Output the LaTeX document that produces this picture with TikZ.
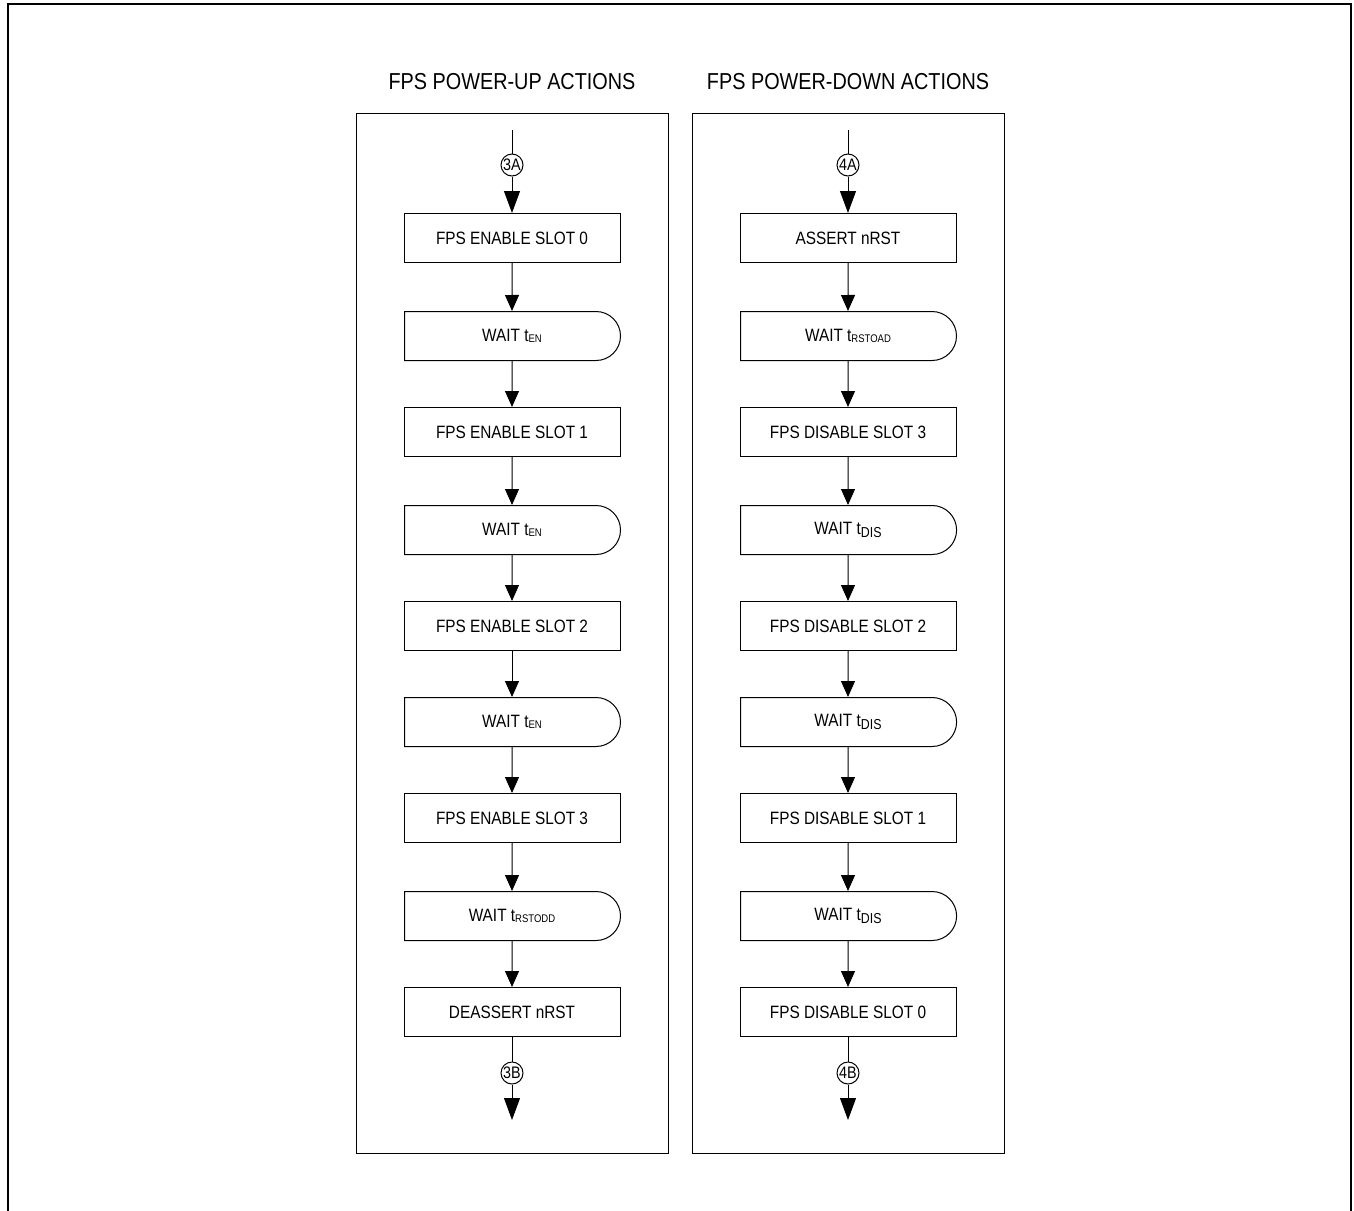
\documentclass[tikz,border=0pt]{standalone}
\usepackage{fontspec}
\setmainfont{Liberation Sans}[FakeStretch=0.86]
\usetikzlibrary{arrows.meta,shapes.misc}
% subscripts of the wait times
\newcommand{\tsmall}[1]{t\raisebox{-1.2pt}{\fontsize{8.3}{8.3}\selectfont #1}}
\newcommand{\tlarge}[1]{t\raisebox{-2pt}{\fontsize{10.8}{10.8}\selectfont #1}}
\begin{document}
\begin{tikzpicture}[x=0.75pt, y=-0.75pt, line width=0.75pt,
    stepbox/.style={draw, rectangle, minimum width=162pt, minimum height=36.75pt,
      inner sep=0pt, font=\fontsize{13.4}{15}\selectfont},
    waitbox/.style={draw, rounded rectangle, rounded rectangle left arc=none,
      minimum width=162pt, minimum height=36.75pt, inner sep=0pt,
      font=\fontsize{13.4}{15}\selectfont},
    conn/.style={draw, circle, fill=white, minimum size=16.5pt, inner sep=0pt,
      font=\fontsize{12.5}{12.5}\selectfont},
    flow/.style={-{Triangle[length=12pt, width=10.5pt]}},
    bigflow/.style={-{Triangle[length=16.5pt, width=12pt]}},
    title/.style={font=\fontsize{17.3}{19}\selectfont}]
    \useasboundingbox (0,0) rectangle (1354,1211);
    \draw[line width=1.5pt] (8,1211) -- (8,4) -- (1351,4) -- (1351,1211);

    % panels
    \draw (356,113) rectangle (668,1153);
    \draw (692,113) rectangle (1004,1153);
    \node[title] (uptitle) at (512,82) {FPS POWER-UP ACTIONS};
    \node[title] (downtitle) at (848,82) {FPS POWER-DOWN ACTIONS};

    % power-up
    \coordinate (upstart) at (512,130);
    \node[conn] (c3a) at (512,165) {3A};
    \node[stepbox] (u1) at (512,238) {FPS ENABLE SLOT 0};
    \node[waitbox] (u2) at (512,336) {WAIT \tsmall{EN}};
    \node[stepbox] (u3) at (512,432) {FPS ENABLE SLOT 1};
    \node[waitbox] (u4) at (512,530) {WAIT \tsmall{EN}};
    \node[stepbox] (u5) at (512,626) {FPS ENABLE SLOT 2};
    \node[waitbox] (u6) at (512,722) {WAIT \tsmall{EN}};
    \node[stepbox] (u7) at (512,818) {FPS ENABLE SLOT 3};
    \node[waitbox] (u8) at (512,916) {WAIT \tsmall{RSTODD}};
    \node[stepbox] (u9) at (512,1012) {DEASSERT nRST};
    \node[conn] (c3b) at (512,1073) {3B};
    \coordinate (upend) at (512,1120);

    \draw (upstart) -- (c3a);
    \draw[bigflow] (c3a) -- (u1);
    \draw[flow] (u1) -- (u2);
    \draw[flow] (u2) -- (u3);
    \draw[flow] (u3) -- (u4);
    \draw[flow] (u4) -- (u5);
    \draw[flow] (u5) -- (u6);
    \draw[flow] (u6) -- (u7);
    \draw[flow] (u7) -- (u8);
    \draw[flow] (u8) -- (u9);
    \draw (u9) -- (c3b);
    \draw[bigflow] (c3b) -- (upend);

    % power-down
    \coordinate (downstart) at (848,130);
    \node[conn] (c4a) at (848,165) {4A};
    \node[stepbox] (d1) at (848,238) {ASSERT nRST};
    \node[waitbox] (d2) at (848,336) {WAIT \tsmall{RSTOAD}};
    \node[stepbox] (d3) at (848,432) {FPS DISABLE SLOT 3};
    \node[waitbox] (d4) at (848,530) {WAIT \tlarge{DIS}};
    \node[stepbox] (d5) at (848,626) {FPS DISABLE SLOT 2};
    \node[waitbox] (d6) at (848,722) {WAIT \tlarge{DIS}};
    \node[stepbox] (d7) at (848,818) {FPS DISABLE SLOT 1};
    \node[waitbox] (d8) at (848,916) {WAIT \tlarge{DIS}};
    \node[stepbox] (d9) at (848,1012) {FPS DISABLE SLOT 0};
    \node[conn] (c4b) at (848,1073) {4B};
    \coordinate (downend) at (848,1120);

    \draw (downstart) -- (c4a);
    \draw[bigflow] (c4a) -- (d1);
    \draw[flow] (d1) -- (d2);
    \draw[flow] (d2) -- (d3);
    \draw[flow] (d3) -- (d4);
    \draw[flow] (d4) -- (d5);
    \draw[flow] (d5) -- (d6);
    \draw[flow] (d6) -- (d7);
    \draw[flow] (d7) -- (d8);
    \draw[flow] (d8) -- (d9);
    \draw (d9) -- (c4b);
    \draw[bigflow] (c4b) -- (downend);
\end{tikzpicture}
\end{document}
